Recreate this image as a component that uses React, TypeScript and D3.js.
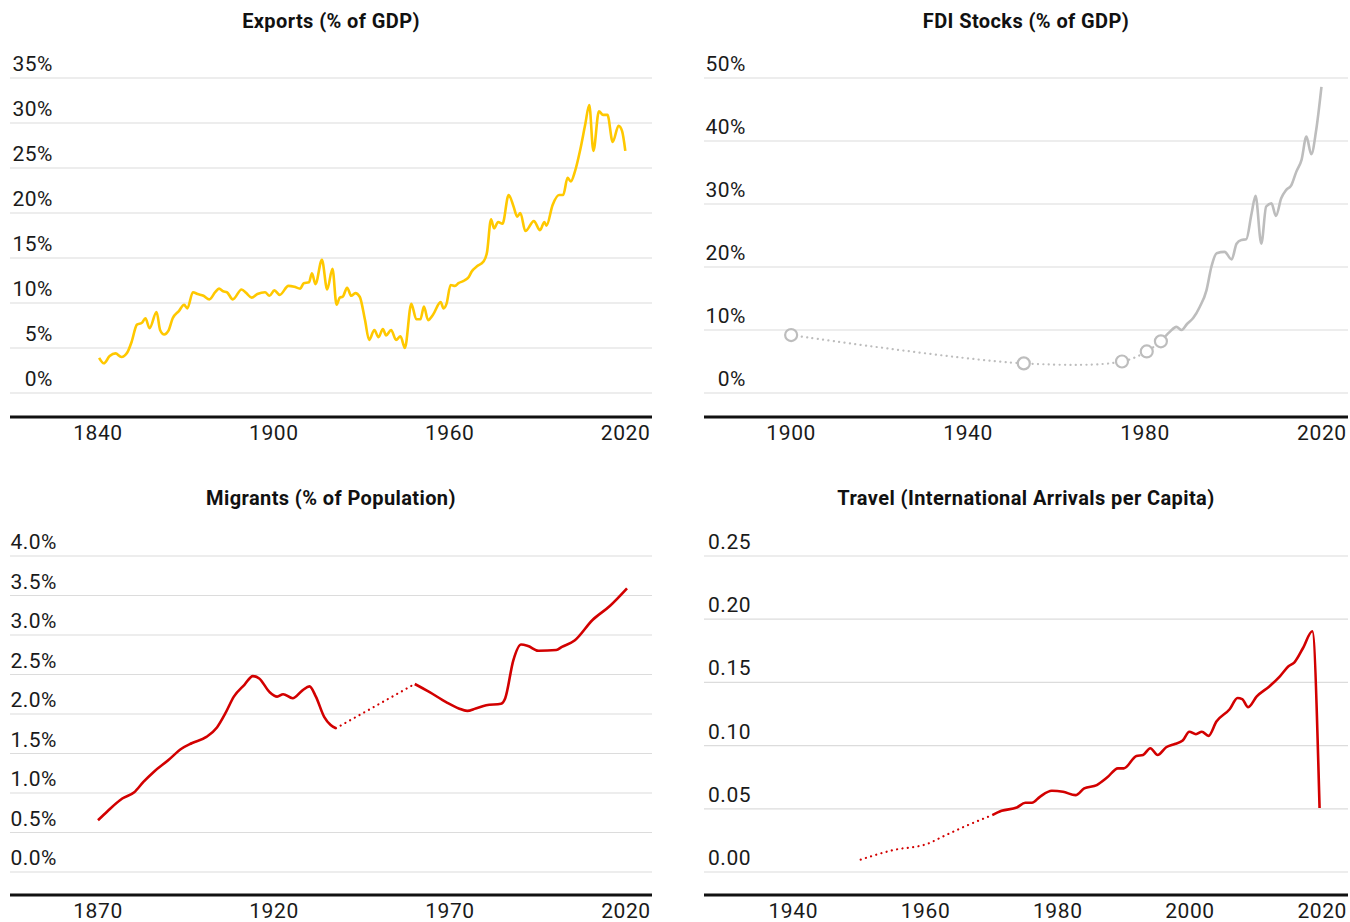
import React from "react";
import * as d3 from "d3";

// ---------- DATA ----------
const exportsYears = [1840.4,1842,1844,1846,1848,1850,1851.5,1853.3,1855,1856.2,1857.6,1860,1861.2,1862.6,1864,1865.5,1867.6,1869.4,1870.5,1872.4,1874,1876,1878,1880,1881.3,1882.7,1884,1886,1889,1890.6,1892.4,1894.4,1897,1898.5,1900.2,1902,1905,1907,1909,1910.2,1912,1913,1914.2,1916.4,1918.2,1920,1921.4,1922.5,1923.5,1925,1926.4,1927.8,1929.3,1931.1,1932.5,1934.3,1935.7,1937.2,1938.3,1940,1941.7,1943.2,1944.7,1946.9,1948.6,1950,1951.2,1952.6,1954.3,1956.9,1957.9,1958.9,1960.3,1961.8,1963,1965,1966.5,1967.5,1969.4,1971.5,1972.7,1974.1,1975.1,1976.5,1978,1980.1,1981.8,1983,1984.1,1985.8,1988.7,1990.8,1992.3,1993,1995.1,1997.3,1998.7,2000.2,2001.3,2002.7,2004.5,2006.2,2007.6,2009,2010.9,2012.3,2013.8,2015.6,2017.6,2018.8,2019.9];
const exportsValues = [3.9,3.3,4.1,4.4,4.0,4.5,5.7,7.6,7.8,8.3,7.2,9.0,7.0,6.5,6.9,8.3,9.1,9.8,9.4,11.2,11.0,10.8,10.4,11.2,11.6,11.3,11.2,10.4,11.5,11.1,10.6,11.0,11.2,10.8,11.4,10.9,11.9,11.8,11.6,12.2,12.3,13.3,12.1,14.8,11.5,13.8,9.8,10.6,10.7,11.7,10.8,11.1,10.7,8.1,5.9,7.0,6.2,7.1,6.4,7.0,5.9,6.3,5.0,9.9,8.2,8.2,9.6,8.1,8.7,10.1,9.4,9.9,12.0,11.9,12.2,12.5,12.9,13.5,14.1,14.6,15.6,19.3,18.3,19.0,18.8,22.0,20.7,19.6,20.0,18.0,19.1,18.1,19.0,18.6,20.9,22.0,22.0,23.9,23.5,24.6,27.0,29.8,32.0,26.9,31.3,30.9,30.9,27.9,29.7,29.1,26.9];

const fdiEstimateYears = [1900,1952.6,1974.8,1980.4,1983.6];
const fdiEstimateValues = [9.2,4.7,5.0,6.6,8.2];
const fdiYears = [1983.6,1985.6,1987.1,1988.3,1989.5,1990.9,1992.4,1993.9,1995.0,1996.2,1998.0,1999.6,2000.7,2001.8,2002.9,2004.1,2005.0,2006.3,2007.4,2008.6,2009.6,2010.8,2011.9,2013.1,2014.2,2015.4,2016.5,2017.6,2018.7,2019.9];
const fdiValues = [8.2,9.7,10.5,10.0,10.95,11.9,13.7,16.3,20.0,22.2,22.4,21.2,23.7,24.3,24.4,28.5,31.3,23.7,29.6,30.1,28.1,30.9,32.2,33.0,35.1,37.0,40.7,37.9,41.7,48.6];

const migrantsEarlyYears = [1870,1872.7,1876.9,1880.3,1882.9,1885.9,1890.1,1893.7,1896.6,1900.8,1903.8,1906.2,1908.6,1911.6,1914,1915.8,1918.7,1920.9,1922.6,1925.3,1928.1,1930.1,1931.9,1934.3,1936.1,1937.6];
const migrantsEarlyValues = [0.655,0.77,0.93,1.01,1.14,1.27,1.42,1.56,1.63,1.71,1.83,2.01,2.22,2.37,2.48,2.45,2.28,2.22,2.25,2.20,2.30,2.35,2.22,1.96,1.86,1.82];
const migrantsGapYears = [1937.6,1960];
const migrantsGapValues = [1.82,2.38];
const migrantsLateYears = [1960,1964.1,1968.9,1972.5,1974.9,1977.3,1980.3,1984.5,1985.7,1988,1990.2,1992.2,1995.2,2000.2,2001.8,2005.4,2010.5,2015.5,2020.3];
const migrantsLateValues = [2.38,2.28,2.15,2.07,2.04,2.07,2.11,2.13,2.20,2.68,2.88,2.86,2.80,2.81,2.85,2.93,3.19,3.37,3.59];

const travelEstimateYears = [1950.2,1955,1960.4,1962.6,1965.8,1970.1];
const travelEstimateValues = [0.0098,0.0172,0.0225,0.028,0.0357,0.045];
const travelYears = [1970.1,1971.5,1973.8,1975.1,1976.1,1977.3,1979.1,1980.8,1982.7,1984,1985.9,1987.5,1989.1,1990,1991.9,1992.9,1994,1995.1,1996.4,1997.7,1998.9,1999.9,2000.9,2001.8,2002.8,2004,2006,2007.2,2007.9,2008.8,2010.1,2012,2013.6,2014.9,2015.8,2017.1,2018.5,2019.6];
const travelValues = [0.045,0.0484,0.051,0.0548,0.0548,0.0595,0.0643,0.0635,0.0608,0.0661,0.0688,0.0749,0.082,0.082,0.0918,0.0926,0.0979,0.0926,0.0987,0.1013,0.104,0.111,0.109,0.111,0.1077,0.119,0.1288,0.1376,0.1368,0.1304,0.1389,0.1468,0.1548,0.1627,0.1659,0.1772,0.1905,0.0506];

const exportsTicksY = [0,5,10,15,20,25,30,35];
const exportsTicksX = [1840,1900,1960,2020];
const fdiTicksY = [0,10,20,30,40,50];
const fdiTicksX = [1900,1940,1980,2020];
const migrantsTicksY = [0,0.5,1,1.5,2,2.5,3,3.5,4];
const migrantsTicksX = [1870,1920,1970,2020];
const travelTicksY = [0,0.05,0.1,0.15,0.2,0.25];
const travelTicksX = [1940,1960,1980,2000,2020];

const titles = ["Exports (% of GDP)","FDI Stocks (% of GDP)","Migrants (% of Population)","Travel (International Arrivals per Capita)"];

// ---------- STYLE ----------
const FONT = "Roboto, 'Noto Sans', sans-serif";
const GOLD = "#ffc800";
const GREY = "#bdbdbd";
const RED = "#d20000";
const GRID = "#dcdcdc";

type Series = { xs: number[]; ys: number[]; color: string; dotted?: boolean; curve?: any };

function zip(xs: number[], ys: number[]) {
  return xs.map((x, i) => [x, ys[i]] as [number, number]);
}

function Panel(props: {
  left: number; right: number; top: number; bottom: number; axisY: number; titleY: number;
  labelX: number; title: string; xDomain: [number, number]; yDomain: [number, number];
  ticksX: number[]; ticksY: number[]; fmt: (v: number) => string; series: Series[];
  circles?: { xs: number[]; ys: number[]; color: string };
}) {
  const x = d3.scaleLinear().domain(props.xDomain).range([props.left, props.right]);
  const y = d3.scaleLinear().domain(props.yDomain).range([props.bottom, props.top]);
  return (
    <g>
      <text x={(props.left + props.right) / 2} y={props.titleY} textAnchor="middle"
        fontFamily={FONT} fontWeight={700} fontSize={20} letterSpacing={0.4} fill="#111">{props.title}</text>
      {props.ticksY.map((t) => (
        <g key={"gy" + t}>
          <line x1={props.left} x2={props.right} y1={y(t)} y2={y(t)} stroke={GRID} strokeWidth={1.2} />
          <text x={props.labelX} y={y(t) - 7} textAnchor="end" fontFamily={FONT} fontSize={21} letterSpacing={0.5} fill="#1a1a1a">
            {props.fmt(t)}
          </text>
        </g>
      ))}
      <line x1={props.left} x2={props.right} y1={props.axisY} y2={props.axisY} stroke="#111" strokeWidth={3} />
      {props.ticksX.map((t) => (
        <text key={"gx" + t} x={x(t)} y={props.axisY + 23} textAnchor="middle" fontFamily={FONT} fontSize={21} letterSpacing={0.6} fill="#1a1a1a">
          {t}
        </text>
      ))}
      {props.series.map((s, i) => {
        const gen = d3.line<[number, number]>()
          .x((d) => x(d[0]))
          .y((d) => y(d[1]))
          .curve(s.curve || d3.curveMonotoneX);
        return (
          <path key={i} d={gen(zip(s.xs, s.ys)) || ""} fill="none" stroke={s.color}
            strokeWidth={s.dotted ? 2.2 : 2.6} strokeLinecap={s.dotted ? "round" : "butt"} strokeLinejoin="round"
            strokeDasharray={s.dotted ? "0.1,5.3" : undefined} />
        );
      })}
      {props.circles && props.circles.xs.map((cx, i) => (
        <circle key={"c" + i} cx={x(cx)} cy={y(props.circles!.ys[i])} r={6} fill="#fff"
          stroke={props.circles!.color} strokeWidth={2.2} />
      ))}
    </g>
  );
}

export default function App() {
  const pct0 = (v: number) => `${v}%`;
  const pct1 = (v: number) => `${v.toFixed(1)}%`;
  const dec2 = (v: number) => v.toFixed(2);
  return (
    <svg width={1350} height={922} style={{ position: "absolute", left: 0, top: 0, background: "#fff" }}>
      <Panel left={10} right={652} top={78} bottom={393} axisY={417} titleY={28} labelX={53}
        title={titles[0]} xDomain={[1810, 2029]} yDomain={[0, 35]}
        ticksX={exportsTicksX} ticksY={exportsTicksY} fmt={pct0}
        series={[{ xs: exportsYears, ys: exportsValues, color: GOLD }]} />
      <Panel left={704} right={1348} top={78} bottom={393} axisY={417} titleY={28} labelX={746}
        title={titles[1]} xDomain={[1880.3, 2025.9]} yDomain={[0, 50]}
        ticksX={fdiTicksX} ticksY={fdiTicksY} fmt={pct0}
        series={[
          { xs: fdiEstimateYears, ys: fdiEstimateValues, color: GREY, dotted: true, curve: d3.curveCatmullRom },
          { xs: fdiYears, ys: fdiValues, color: GREY },
        ]}
        circles={{ xs: fdiEstimateYears, ys: fdiEstimateValues, color: GREY }} />
      <Panel left={10} right={652} top={556} bottom={872} axisY={895} titleY={505} labelX={57}
        title={titles[2]} xDomain={[1845, 2027.4]} yDomain={[0, 4]}
        ticksX={migrantsTicksX} ticksY={migrantsTicksY} fmt={pct1}
        series={[
          { xs: migrantsEarlyYears, ys: migrantsEarlyValues, color: RED },
          { xs: migrantsGapYears, ys: migrantsGapValues, color: RED, dotted: true, curve: d3.curveLinear },
          { xs: migrantsLateYears, ys: migrantsLateValues, color: RED },
        ]} />
      <Panel left={704} right={1348} top={556} bottom={872} axisY={895} titleY={505} labelX={751}
        title={titles[3]} xDomain={[1926.5, 2023.9]} yDomain={[0, 0.25]}
        ticksX={travelTicksX} ticksY={travelTicksY} fmt={dec2}
        series={[
          { xs: travelEstimateYears, ys: travelEstimateValues, color: RED, dotted: true },
          { xs: travelYears, ys: travelValues, color: RED },
        ]} />
    </svg>
  );
}
